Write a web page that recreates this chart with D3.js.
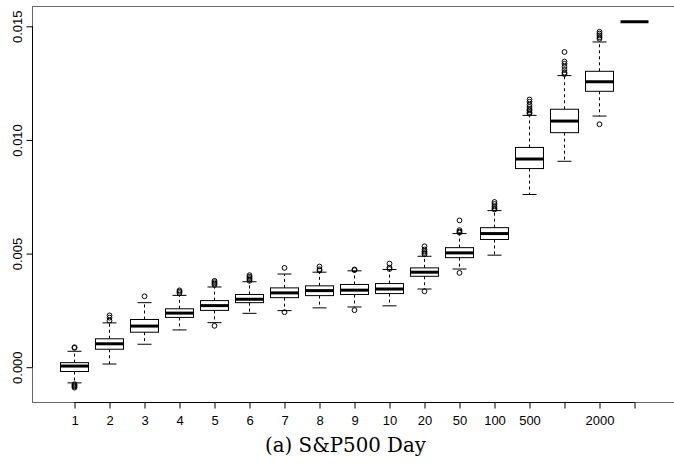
<!DOCTYPE html>
<html>
<head>
<meta charset="utf-8">
<script src="https://cdn.jsdelivr.net/npm/d3@7"></script>
<style>
  html, body { margin: 0; padding: 0; background: #fff; }
  svg { display: block; }
</style>
</head>
<body>
<svg id="chart" width="674" height="466"></svg>
<script>
// ---- data ----
const tickLabels = ["1","2","3","4","5","6","7","8","9","10","20","50","100","500","","2000",""];
const whiskerLow  = [-0.00069, 0.00014, 0.00101, 0.00164, 0.00196, 0.00237, 0.00249, 0.00261, 0.00265, 0.00270, 0.00344, 0.00432, 0.00493, 0.00760, 0.00906, 0.01105, 0.01520];
const q1          = [-0.00019, 0.00079, 0.00154, 0.00219, 0.00250, 0.00284, 0.00306, 0.00315, 0.00320, 0.00324, 0.00400, 0.00482, 0.00562, 0.00874, 0.01032, 0.01214, 0.01520];
const medians     = [ 0.00005, 0.00103, 0.00181, 0.00238, 0.00271, 0.00299, 0.00327, 0.00337, 0.00339, 0.00344, 0.00418, 0.00503, 0.00588, 0.00916, 0.01083, 0.01256, 0.01520];
const q3          = [ 0.00020, 0.00125, 0.00210, 0.00257, 0.00293, 0.00320, 0.00349, 0.00358, 0.00364, 0.00368, 0.00437, 0.00526, 0.00614, 0.00967, 0.01135, 0.01302, 0.01520];
const whiskerHigh = [ 0.00070, 0.00195, 0.00284, 0.00316, 0.00353, 0.00376, 0.00410, 0.00418, 0.00424, 0.00430, 0.00488, 0.00588, 0.00689, 0.01108, 0.01283, 0.01431, 0.01520];
const outliers = [
  [0.00088, 0.00085, -0.00075, -0.00080, -0.00085, -0.00090],
  [0.00228, 0.00218, 0.00205],
  [0.00312],
  [0.00338, 0.00332, 0.00326],
  [0.00380, 0.00374, 0.00368, 0.00362, 0.00182],
  [0.00405, 0.00398, 0.00392, 0.00386, 0.00380],
  [0.00437, 0.00242],
  [0.00443, 0.00431, 0.00425],
  [0.00430, 0.00427, 0.00251],
  [0.00456, 0.00438, 0.00432],
  [0.00532, 0.00518, 0.00510, 0.00503, 0.00497, 0.00334],
  [0.00646, 0.00603, 0.00597, 0.00592, 0.00415],
  [0.00727, 0.00718, 0.00708, 0.00700, 0.00694],
  [0.01178, 0.01168, 0.01155, 0.01145, 0.01135, 0.01130, 0.01122, 0.01116],
  [0.01387, 0.01345, 0.01335, 0.01322, 0.01308, 0.01296, 0.01290],
  [0.01476, 0.01468, 0.01460, 0.01452, 0.01445, 0.01069],
  []
];
const yTicks = [0, 0.005, 0.010, 0.015];
const yTickLabels = ["0.000", "0.005", "0.010", "0.015"];
const caption = "(a) S&P500 Day";

// ---- layout ----
const svg = d3.select("#chart");
const frame = {left: 32.5, top: 6.5, right: 675.5, bottom: 402.5};
const n = tickLabels.length;
const x = d3.scaleLinear().domain([1, n]).range([74.5, 634.5]);
const y = d3.scaleLinear().domain([0, 0.015]).range([367.2, 26.3]);
const boxW = 28, capW = 14;

// frame
svg.append("rect")
  .attr("x", frame.left).attr("y", frame.top)
  .attr("width", frame.right - frame.left).attr("height", frame.bottom - frame.top)
  .attr("fill", "none").attr("stroke", "#6a6a6a").attr("stroke-width", 1);

// boxes
const idx = d3.range(n);
const g = svg.append("g");
idx.forEach(i => {
  const cx = x(i + 1);
  const gi = g.append("g");
  // whiskers
  gi.append("line").attr("x1", cx).attr("x2", cx)
    .attr("y1", y(q3[i])).attr("y2", y(whiskerHigh[i]))
    .attr("stroke", "#000").attr("stroke-dasharray", "3,3");
  gi.append("line").attr("x1", cx).attr("x2", cx)
    .attr("y1", y(q1[i])).attr("y2", y(whiskerLow[i]))
    .attr("stroke", "#000").attr("stroke-dasharray", "3,3");
  // caps
  [whiskerHigh[i], whiskerLow[i]].forEach(v => {
    gi.append("line").attr("x1", cx - capW / 2).attr("x2", cx + capW / 2)
      .attr("y1", y(v)).attr("y2", y(v)).attr("stroke", "#000");
  });
  // box
  gi.append("rect")
    .attr("x", cx - boxW / 2).attr("width", boxW)
    .attr("y", y(q3[i])).attr("height", Math.max(0, y(q1[i]) - y(q3[i])))
    .attr("fill", "#fff").attr("stroke", "#000").attr("stroke-width", 1);
  // median
  gi.append("line").attr("x1", cx - boxW / 2).attr("x2", cx + boxW / 2)
    .attr("y1", y(medians[i])).attr("y2", y(medians[i]))
    .attr("stroke", "#000").attr("stroke-width", 3);
  // outliers
  gi.selectAll("circle").data(outliers[i]).join("circle")
    .attr("cx", cx).attr("cy", d => y(d)).attr("r", 2.4)
    .attr("fill", "none").attr("stroke", "#000").attr("stroke-width", 1);
});

// y axis
const yAxis = svg.append("g").attr("transform", `translate(${frame.left},0)`)
  .call(d3.axisLeft(y).tickValues(yTicks).tickSize(6).tickFormat((d, i) => yTickLabels[i]));
yAxis.select(".domain").attr("stroke", "#000");
yAxis.selectAll(".tick line").attr("stroke", "#000");
yAxis.selectAll(".tick text")
  .attr("font-family", "'Liberation Sans', Arial, sans-serif")
  .attr("font-size", 13).attr("fill", "#000")
  .attr("text-anchor", "middle")
  .attr("dy", 0).attr("x", 0)
  .attr("transform", "translate(-11,0) rotate(-90)");
yAxis.select(".domain").attr("d", `M0,${y(0)}V${y(0.015)}`);

// x axis
const xAxis = svg.append("g").attr("transform", `translate(0,${frame.bottom})`)
  .call(d3.axisBottom(x).tickValues(d3.range(1, n + 1)).tickSize(6).tickFormat(d => tickLabels[d - 1]));
xAxis.select(".domain").attr("d", `M${x(1)},0H${x(n)}`).attr("stroke", "#000");
xAxis.selectAll(".tick line").attr("stroke", "#000");
xAxis.selectAll(".tick text")
  .attr("font-family", "'Liberation Sans', Arial, sans-serif")
  .attr("font-size", 13).attr("fill", "#000")
  .attr("y", 22).attr("dy", 0);

// caption
const cap = svg.append("text")
  .attr("x", 345.5).attr("y", 452)
  .attr("text-anchor", "middle")
  .attr("font-family", "'DejaVu Serif', 'Liberation Serif', serif")
  .attr("font-size", 19).attr("fill", "#000")
  .text(caption);
const w = cap.node().getComputedTextLength();
cap.attr("font-size", 19 * 161 / w);
</script>
</body>
</html>
